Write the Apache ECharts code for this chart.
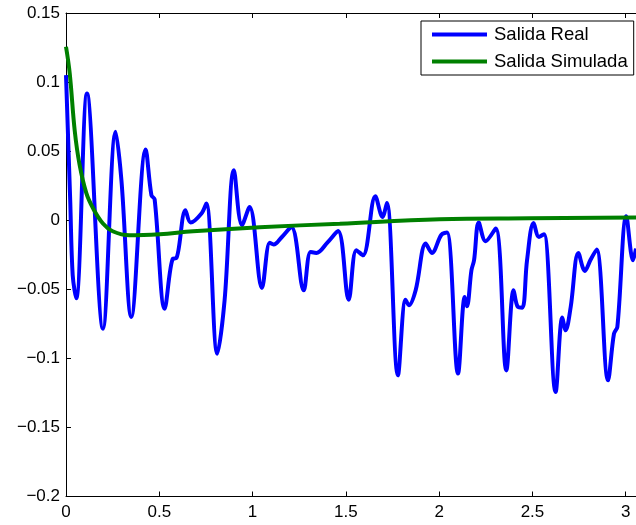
<!DOCTYPE html>
<html>
<head>
<meta charset="utf-8">
<script src="https://cdn.jsdelivr.net/npm/echarts@6/dist/echarts.min.js"></script>
<style>
  html, body { margin: 0; padding: 0; background: #fff; }
  #chart { width: 636px; height: 525px; }
</style>
</head>
<body>
<div id="chart"></div>
<script>
// Measured output (time in s, response)
const realT = [0, 0.0225, 0.036, 0.055, 0.1125, 0.198, 0.266, 0.297, 0.350, 0.427, 0.458, 0.475,
  0.529, 0.573, 0.591, 0.640, 0.668, 0.726, 0.752, 0.811, 0.850, 0.900, 0.943, 0.984,
  1.050, 1.092, 1.113, 1.156, 1.208, 1.274, 1.311, 1.342, 1.402, 1.458, 1.515, 1.556, 1.592,
  1.658, 1.696, 1.720, 1.779, 1.820, 1.838, 1.874, 1.928, 1.961, 2.012, 2.042, 2.101, 2.137,
  2.149, 2.173, 2.187, 2.212, 2.249, 2.303, 2.360, 2.399, 2.422, 2.446, 2.471, 2.506, 2.535,
  2.562, 2.624, 2.660, 2.678, 2.705, 2.746, 2.781, 2.812, 2.844, 2.905, 2.937, 2.955, 3.003,
  3.039, 3.055];
const realV = [0.105, 0.0145, -0.040, -0.0565, 0.0918, -0.0785, 0.064, 0.029, -0.070, 0.0512, 0.018, 0.0152,
  -0.064, -0.0278, -0.0275, 0.0072, -0.0017, 0.0049, 0.0121, -0.0966, -0.058, 0.0362, -0.0036, 0.0096,
  -0.049, -0.0164, -0.0176, -0.0123, -0.0049, -0.0507, -0.023, -0.0237, -0.016, -0.0078, -0.0575, -0.0217, -0.0254,
  0.0174, 0.0024, 0.0125, -0.1123, -0.0575, -0.0616, -0.0507, -0.0169, -0.0237, -0.0105, -0.0089, -0.111, -0.0556,
  -0.0623, -0.0362, -0.029, -0.0017, -0.0152, -0.006, -0.1087, -0.0507, -0.0628, -0.0633, -0.029, -0.002, -0.0121,
  -0.0101, -0.1244, -0.0705, -0.0797, -0.0628, -0.0237, -0.0367, -0.0285, -0.0212, -0.1159, -0.0821, -0.0773, 0.0029,
  -0.029, -0.0205];

// Simulated model output
const simT = [0, 0.02, 0.047, 0.073, 0.109, 0.145, 0.198, 0.25, 0.341, 0.502, 0.681, 1.038, 1.467, 2.003, 2.485, 3.055];
const simV = [0.1256, 0.1063, 0.0645, 0.040, 0.0196, 0.0087, -0.0024, -0.008, -0.0109, -0.0101, -0.008, -0.0051,
  -0.0025, 0.0007, 0.0014, 0.002];

const seriesNames = ['Salida Real', 'Salida Simulada'];
const xTickLabels = ['0', '0.5', '1', '1.5', '2', '2.5', '3'];
const yTickLabels = ['\u22120.2', '\u22120.15', '\u22120.1', '\u22120.05', '0', '0.05', '0.1', '0.15'];

const font = 'Liberation Sans, Arial, Helvetica, sans-serif';
const zip = (a, b) => a.map((v, i) => [v, b[i]]);

const xLabel = v => {
  const i = Math.round(v / 0.5);
  return Math.abs(v - i * 0.5) < 1e-6 && xTickLabels[i] !== undefined ? xTickLabels[i] : '';
};
const yLabel = v => {
  const i = Math.round((v + 0.2) / 0.05);
  return yTickLabels[i] !== undefined ? yTickLabels[i] : '';
};

const axisBase = {
  type: 'value',
  axisLine: { show: true, onZero: false, lineStyle: { color: '#000', width: 1 } },
  axisTick: { show: true, inside: true, length: 5, lineStyle: { color: '#000' } },
  splitLine: { show: false }
};

const chart = echarts.init(document.getElementById('chart'), null, { renderer: 'canvas' });
chart.setOption({
  animation: false,
  backgroundColor: '#fff',
  // the plot runs right up to the canvas edge
  grid: { left: 66, top: 13, right: 0, bottom: 28.5, containLabel: false },
  xAxis: [
    Object.assign({}, axisBase, {
      position: 'bottom', min: 0, max: 3.055, interval: 0.5,
      axisLabel: { formatter: xLabel, color: '#000', fontFamily: font, fontSize: 17, margin: 7,
        showMaxLabel: false }
    }),
    Object.assign({}, axisBase, {
      position: 'top', min: 0, max: 3.055, interval: 0.5,
      axisLabel: { show: false }
    })
  ],
  yAxis: [
    Object.assign({}, axisBase, {
      position: 'left', min: -0.2, max: 0.15, interval: 0.05,
      axisLabel: { formatter: yLabel, color: '#000', fontFamily: font, fontSize: 17, margin: 6 }
    })
  ],
  legend: {
    data: seriesNames,
    orient: 'vertical',
    left: 421, top: 21,
    padding: [4, 6, 4, 11],
    itemGap: 8,
    itemWidth: 55, itemHeight: 4,
    icon: 'rect',
    borderColor: '#000', borderWidth: 1, backgroundColor: '#fff',
    textStyle: { color: '#000', fontFamily: font, fontSize: 18.5, lineHeight: 18, padding: [0, 0, 0, 2] }
  },
  series: [
    {
      name: seriesNames[0], type: 'line', data: zip(realT, realV),
      showSymbol: false, symbol: 'none', smooth: 0.35, clip: true,
      color: '#0000ff', lineStyle: { color: '#0000ff', width: 4 }, z: 3
    },
    {
      name: seriesNames[1], type: 'line', data: zip(simT, simV),
      showSymbol: false, symbol: 'none', smooth: 0.4, clip: true,
      color: '#008000', lineStyle: { color: '#008000', width: 4 }, z: 4
    }
  ]
});
</script>
</body>
</html>
